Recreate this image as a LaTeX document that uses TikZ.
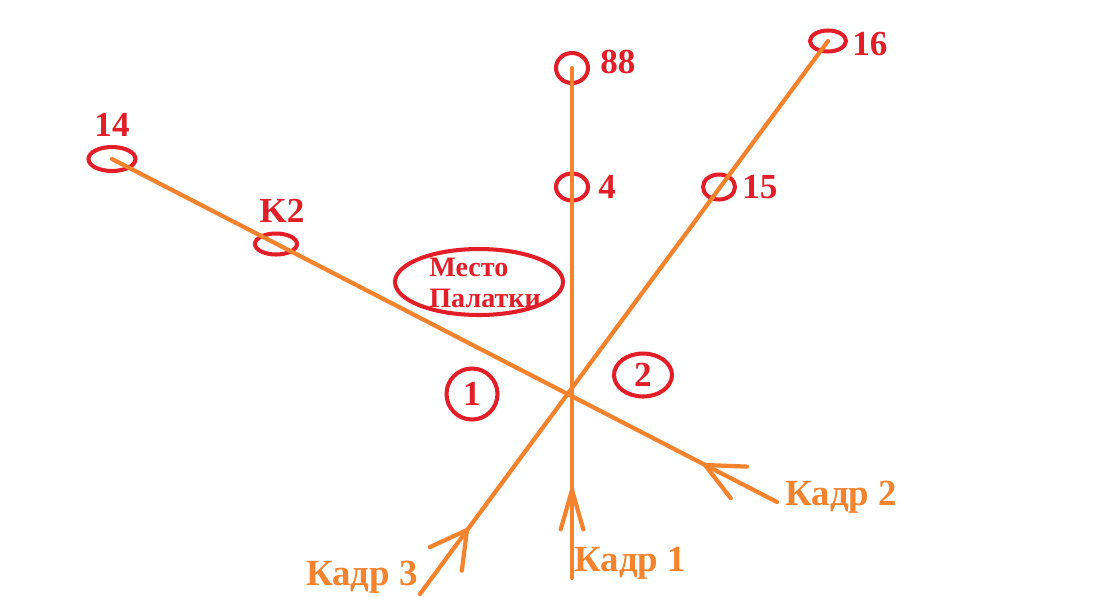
\documentclass[tikz,border=0pt]{standalone}
\usepackage{fontspec}
\setmainfont{Liberation Serif}
\usetikzlibrary{shapes.geometric,positioning,calc}
\definecolor{rayorange}{RGB}{245,130,45}
\definecolor{markred}{RGB}{228,30,40}

\begin{document}
\begin{tikzpicture}[
    x=0.02cm, y=-0.02cm,
    ray/.style={draw=rayorange, line width=2.4pt, line cap=round, line join=round},
    ring/.style={ellipse, draw=markred, line width=2.3pt, inner sep=0pt, text=markred, font=\fontsize{20}{22}\selectfont\bfseries},
    num/.style={text=markred, inner sep=0pt, font=\fontsize{20}{22}\selectfont\bfseries},
    kadr/.style={text=rayorange, inner sep=0pt, font=\fontsize{21}{24}\selectfont\bfseries},
    tent/.style={text=markred, inner sep=0pt, align=left, font=\fontsize{16}{17.6}\selectfont\bfseries}
]
\fill[white] (0,0) rectangle (1094,596);
\useasboundingbox (0,0) rectangle (1094,596);

% Marks on the rays
\node[ring, minimum width=0.94cm, minimum height=0.48cm] (e14) at (112,159) {};
\node[ring, minimum width=0.84cm, minimum height=0.42cm] (ek2) at (276,244) {};
\node[ring, minimum width=0.64cm, minimum height=0.60cm] (e88) at (572,68) {};
\node[ring, minimum width=0.64cm, minimum height=0.54cm] (e4) at (572,187) {};
\node[ring, minimum width=0.64cm, minimum height=0.50cm] (e15) at (719,187) {};
\node[ring, minimum width=0.72cm, minimum height=0.42cm] (e16) at (828,41) {};

% Ray ends and arrow tips
\coordinate (k1end) at (572,578);
\coordinate (k2end) at (777,502);
\coordinate (k3end) at (420,594);
\coordinate (tip1) at (572,490);
\coordinate (tip2) at (705,465);
\coordinate (tip3) at (467,530);

% Rays
\draw[ray] (e14.center) -- (k2end);
\draw[ray] (e88.center) -- (k1end);
\draw[ray] (e16.center) -- (k3end);

% Open arrow heads
\draw[ray] ($(tip1)!0.82cm!16:(k1end)$) -- (tip1) -- ($(tip1)!0.82cm!-16:(k1end)$);
\draw[ray] ($(tip2)!0.84cm!25:(k2end)$) -- (tip2) -- ($(tip2)!0.84cm!-25:(k2end)$);
\draw[ray] ($(tip3)!0.82cm!29:(k3end)$) -- (tip3) -- ($(tip3)!0.82cm!-29:(k3end)$);

% Tent place and sectors
\node[ring, minimum width=3.36cm, minimum height=1.32cm] (tentring) at (479,282) {};
\node[tent, anchor=west] (tenttext) at (429,283) {Место\\Палатки};
\node[ring, minimum width=1.02cm, minimum height=1.02cm] (c1) at (472,394) {1};
\node[ring, minimum width=1.16cm, minimum height=0.86cm] (c2) at (643,375) {2};

% Labels
\node[num, above=0.16cm of e14] (l14) {14};
\node[num, above=0.17cm of ek2, xshift=0.12cm] (lk2) {K2};
\node[num, right=0.2cm of e88, yshift=0.12cm] (l88) {88};
\node[num, right=0.16cm of e4] (l4) {4};
\node[num, right=0.1cm of e15] (l15) {15};
\node[num, right=0.08cm of e16, yshift=-0.06cm] (l16) {16};

\node[kadr, right=0.04cm of k1end, yshift=0.3cm] (lk1) {Кадр 1};
\node[kadr, right=0.16cm of k2end, yshift=0.1cm] (lk2a) {Кадр 2};
\node[kadr, left=0.04cm of k3end, yshift=0.34cm] (lk3) {Кадр 3};

\end{tikzpicture}
\end{document}
